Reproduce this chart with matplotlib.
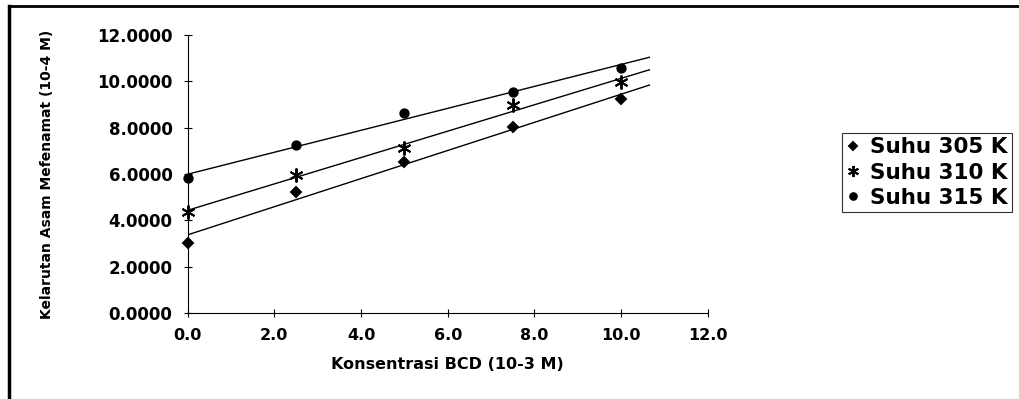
import matplotlib.pyplot as plt
import numpy as np
from matplotlib.lines import Line2D

plt.rcParams['font.family'] = ['DejaVu Sans']
plt.rcParams['font.weight'] = 'bold'

konsentrasi = [0.0, 2.5, 5.0, 7.5, 10.0]
suhu_305 = [3.03, 5.24, 6.53, 8.04, 9.22]
suhu_310 = [4.37, 5.96, 7.13, 8.98, 9.98]
suhu_315 = [5.81, 7.24, 8.65, 9.53, 10.59]

labels = ['Suhu 305 K', 'Suhu 310 K', 'Suhu 315 K']
markers = ['D', (6, 2, 0), 'o']
sizes = [5, 10, 6]

fig = plt.figure(figsize=(10.2, 3.99), dpi=100)
ax = fig.add_axes([0.184, 0.2155, 0.51, 0.6965])

x_fit = np.array([0.0, 10.65])
handles = []
for y, lab, m, s in zip([suhu_305, suhu_310, suhu_315], labels, markers, sizes):
    coef = np.polyfit(konsentrasi, y, 1)
    ax.plot(x_fit, np.polyval(coef, x_fit), color='black', lw=1.0)
    h, = ax.plot(konsentrasi, y, linestyle='none', marker=m, color='black',
                 markersize=s, markeredgewidth=1.4, label=lab, clip_on=False)
    handles.append(h)

ax.set_xlim(0, 12)
ax.set_ylim(0, 12)
ax.set_xticks(np.arange(0, 12.1, 2))
ax.set_yticks(np.arange(0, 12.1, 2))
ax.set_xticklabels([f'{v:.1f}' for v in np.arange(0, 12.1, 2)], fontsize=11.5)
ax.set_yticklabels([f'{v:.4f}' for v in np.arange(0, 12.1, 2)], fontsize=12)
ax.tick_params(direction='inout', length=6, width=0.8, pad=8)

for side in ['top', 'right']:
    ax.spines[side].set_visible(False)
for side in ['left', 'bottom']:
    ax.spines[side].set_linewidth(0.8)

ax.set_xlabel('Konsentrasi BCD (10-3 M)', fontsize=11.5, fontweight='bold', labelpad=10)
ax.set_ylabel('Kelarutan Asam Mefenamat (10-4 M)', fontsize=10, fontweight='bold',
              labelpad=31)

leg = fig.legend(handles=handles, loc='upper left', bbox_to_anchor=(0.8255, 0.667),
                 borderaxespad=0, fontsize=15.5, handlelength=0.6, handletextpad=0.5,
                 frameon=True, fancybox=False, borderpad=0.2, labelspacing=0.25,
                 markerscale=0.8)
leg.get_frame().set_edgecolor('black')
leg.get_frame().set_linewidth(0.8)

# outer frame of the scanned figure
fig.add_artist(Line2D([0.009, 0.009], [0, 0.985], color='black', lw=2.5,
                      transform=fig.transFigure))
fig.add_artist(Line2D([0.009, 1.0], [0.985, 0.985], color='black', lw=2,
                      transform=fig.transFigure))

plt.savefig('out.png', dpi=100)
